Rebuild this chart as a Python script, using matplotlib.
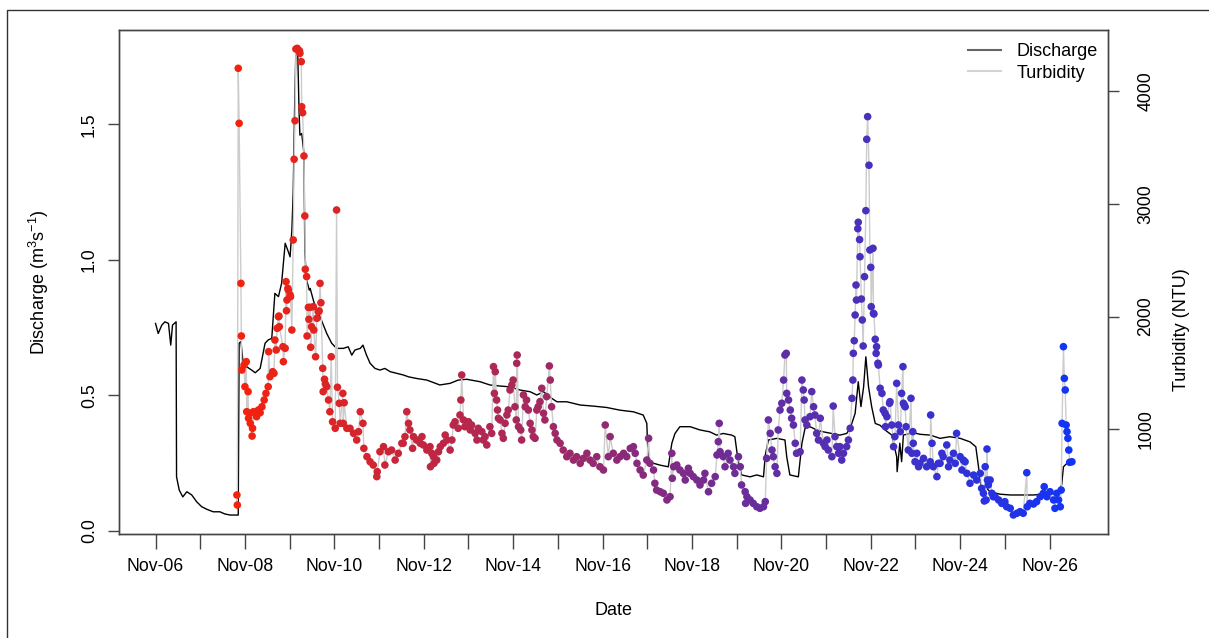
import numpy as np
import pandas as pd
import matplotlib
matplotlib.use('Agg')
import matplotlib.pyplot as plt
from matplotlib.colors import LinearSegmentedColormap
from matplotlib.lines import Line2D

plt.rcParams['font.family'] = ['Liberation Sans', 'DejaVu Sans']
plt.rcParams['mathtext.fontset'] = 'custom'
plt.rcParams['mathtext.rm'] = 'Liberation Sans'

start = pd.Timestamp('2016-11-06')

# stream discharge: days after Nov-06 00:00, m3/s
q_day = [0.00, 0.06, 0.14, 0.21, 0.29, 0.34, 0.38, 0.46, 0.47, 0.53,
         0.61, 0.70, 0.81, 0.92, 1.03, 1.15, 1.29, 1.44, 1.55, 1.67,
         1.82, 1.85, 1.87, 1.91, 1.96, 2.04, 2.15, 2.23, 2.34, 2.45,
         2.52, 2.60, 2.67, 2.75, 2.82, 2.90, 2.97, 3.01, 3.05, 3.08,
         3.11, 3.14, 3.18, 3.21, 3.23, 3.27, 3.32, 3.34, 3.38, 3.44,
         3.46, 3.53, 3.59, 3.68, 3.83, 3.94, 4.05, 4.20, 4.31, 4.39,
         4.46, 4.58, 4.64, 4.72, 4.80, 4.91, 5.02, 5.13, 5.25, 5.40,
         5.54, 5.66, 5.84, 6.07, 6.36, 6.59, 6.77, 6.96, 7.26, 7.48,
         7.71, 7.93, 8.16, 8.38, 8.53, 8.68, 8.86, 8.98, 9.20, 9.50,
         9.79, 10.09, 10.39, 10.69, 10.91, 10.99, 11.02, 11.14, 11.29, 11.47,
         11.55, 11.62, 11.73, 11.96, 12.18, 12.40, 12.55, 12.70, 12.89, 12.96,
         13.02, 13.11, 13.30, 13.45, 13.60, 13.64, 13.71, 13.90, 14.08, 14.12,
         14.19, 14.38, 14.46, 14.53, 14.64, 14.79, 14.94, 15.13, 15.31, 15.46,
         15.54, 15.65, 15.72, 15.78, 15.84, 15.89, 15.95, 16.02, 16.10, 16.21,
         16.32, 16.47, 16.58, 16.59, 16.65, 16.69, 16.73, 16.95, 17.10, 17.33,
         17.55, 17.77, 18.00, 18.22, 18.35, 18.41, 18.48, 18.56, 18.67, 18.89,
         19.12, 19.41, 19.64, 19.86, 20.16, 20.27, 20.31, 20.39]
q_val = [0.765, 0.728, 0.759, 0.771, 0.765, 0.685, 0.759, 0.771, 0.199, 0.150,
         0.125, 0.144, 0.132, 0.107, 0.089, 0.079, 0.070, 0.070, 0.062, 0.058,
         0.058, 0.058, 0.692, 0.698, 0.618, 0.605, 0.593, 0.583, 0.599, 0.692,
         0.704, 0.710, 0.876, 0.864, 0.913, 1.061, 1.030, 1.011, 1.110, 1.250,
         1.550, 1.774, 1.774, 1.550, 1.460, 1.466, 1.393, 1.024, 0.925, 0.888,
         0.894, 0.851, 0.820, 0.790, 0.728, 0.692, 0.673, 0.673, 0.679, 0.648,
         0.667, 0.673, 0.685, 0.648, 0.618, 0.599, 0.593, 0.599, 0.587, 0.581,
         0.575, 0.568, 0.562, 0.556, 0.538, 0.544, 0.556, 0.559, 0.550, 0.538,
         0.534, 0.531, 0.519, 0.513, 0.501, 0.513, 0.489, 0.476, 0.476, 0.464,
         0.460, 0.455, 0.445, 0.439, 0.427, 0.396, 0.261, 0.249, 0.242, 0.236,
         0.323, 0.359, 0.384, 0.384, 0.372, 0.365, 0.353, 0.359, 0.353, 0.347,
         0.273, 0.206, 0.199, 0.206, 0.199, 0.279, 0.335, 0.341, 0.335, 0.273,
         0.206, 0.199, 0.323, 0.378, 0.384, 0.372, 0.365, 0.359, 0.353, 0.359,
         0.378, 0.433, 0.550, 0.458, 0.531, 0.642, 0.531, 0.458, 0.396, 0.389,
         0.372, 0.353, 0.273, 0.218, 0.323, 0.255, 0.353, 0.362, 0.356, 0.353,
         0.341, 0.347, 0.341, 0.328, 0.310, 0.236, 0.144, 0.162, 0.144, 0.135,
         0.132, 0.132, 0.132, 0.135, 0.138, 0.169, 0.236, 0.249]

# turbidity samples: days after Nov-06 00:00, NTU
t_day = [1.82, 1.83, 1.85, 1.87, 1.91, 1.92, 1.93, 1.98, 2.00, 2.03,
         2.04, 2.07, 2.08, 2.11, 2.12, 2.16, 2.17, 2.19, 2.26, 2.30,
         2.34, 2.38, 2.43, 2.47, 2.52, 2.53, 2.56, 2.62, 2.65, 2.67,
         2.70, 2.72, 2.75, 2.76, 2.77, 2.85, 2.86, 2.90, 2.92, 2.93,
         2.94, 2.96, 2.97, 3.01, 3.02, 3.05, 3.08, 3.10, 3.12, 3.14,
         3.17, 3.22, 3.23, 3.26, 3.27, 3.29, 3.32, 3.34, 3.35, 3.38,
         3.39, 3.42, 3.43, 3.46, 3.47, 3.49, 3.53, 3.54, 3.58, 3.61,
         3.64, 3.66, 3.68, 3.70, 3.74, 3.75, 3.78, 3.80, 3.83, 3.87,
         3.90, 3.93, 3.96, 4.02, 4.05, 4.07, 4.11, 4.13, 4.19, 4.20,
         4.22, 4.28, 4.35, 4.43, 4.50, 4.54, 4.58, 4.64, 4.66, 4.73,
         4.80, 4.87, 4.95, 4.96, 5.02, 5.10, 5.13, 5.21, 5.28, 5.36,
         5.43, 5.51, 5.54, 5.58, 5.62, 5.66, 5.69, 5.75, 5.77, 5.84,
         5.92, 5.96, 5.99, 6.07, 6.14, 6.15, 6.18, 6.22, 6.23, 6.29,
         6.33, 6.37, 6.44, 6.48, 6.52, 6.59, 6.63, 6.66, 6.70, 6.77,
         6.81, 6.83, 6.85, 6.89, 6.92, 7.00, 7.04, 7.07, 7.15, 7.19,
         7.22, 7.30, 7.33, 7.37, 7.41, 7.48, 7.52, 7.56, 7.58, 7.60,
         7.63, 7.65, 7.67, 7.71, 7.75, 7.78, 7.82, 7.86, 7.89, 7.93,
         7.97, 8.00, 8.04, 8.07, 8.08, 8.09, 8.12, 8.17, 8.19, 8.23,
         8.27, 8.30, 8.34, 8.38, 8.42, 8.45, 8.49, 8.53, 8.56, 8.60,
         8.64, 8.68, 8.71, 8.75, 8.81, 8.83, 8.86, 8.90, 8.94, 8.98,
         9.05, 9.12, 9.20, 9.27, 9.35, 9.42, 9.50, 9.57, 9.65, 9.72,
         9.79, 9.87, 9.94, 10.02, 10.06, 10.13, 10.17, 10.24, 10.32, 10.39,
         10.47, 10.54, 10.62, 10.69, 10.73, 10.77, 10.84, 10.91, 10.99, 11.03,
         11.06, 11.14, 11.17, 11.21, 11.29, 11.36, 11.44, 11.51, 11.55, 11.56,
         11.59, 11.66, 11.73, 11.81, 11.85, 11.92, 11.96, 12.03, 12.11, 12.18,
         12.26, 12.29, 12.37, 12.44, 12.52, 12.56, 12.59, 12.61, 12.63, 12.70,
         12.74, 12.81, 12.85, 12.93, 12.96, 13.04, 13.08, 13.11, 13.19, 13.20,
         13.23, 13.30, 13.37, 13.45, 13.52, 13.60, 13.64, 13.67, 13.71, 13.75,
         13.79, 13.82, 13.86, 13.90, 13.93, 13.97, 14.01, 14.05, 14.08, 14.11,
         14.12, 14.16, 14.20, 14.23, 14.27, 14.31, 14.34, 14.42, 14.46, 14.49,
         14.51, 14.53, 14.57, 14.64, 14.68, 14.72, 14.75, 14.79, 14.83, 14.87,
         14.94, 14.98, 15.02, 15.05, 15.13, 15.16, 15.20, 15.24, 15.28, 15.31,
         15.35, 15.39, 15.46, 15.50, 15.54, 15.58, 15.60, 15.61, 15.63, 15.65,
         15.67, 15.68, 15.71, 15.72, 15.75, 15.76, 15.79, 15.81, 15.83, 15.86,
         15.89, 15.91, 15.93, 15.96, 15.98, 16.00, 16.01, 16.05, 16.06, 16.07,
         16.10, 16.12, 16.13, 16.16, 16.17, 16.21, 16.25, 16.28, 16.32, 16.33,
         16.36, 16.42, 16.43, 16.47, 16.51, 16.54, 16.58, 16.62, 16.66, 16.69,
         16.72, 16.73, 16.75, 16.77, 16.79, 16.84, 16.90, 16.92, 16.94, 16.95,
         16.99, 17.03, 17.07, 17.10, 17.18, 17.25, 17.33, 17.34, 17.37, 17.40,
         17.48, 17.51, 17.55, 17.59, 17.62, 17.70, 17.74, 17.77, 17.85, 17.89,
         17.92, 18.00, 18.04, 18.07, 18.11, 18.15, 18.22, 18.30, 18.37, 18.45,
         18.48, 18.52, 18.54, 18.56, 18.58, 18.60, 18.61, 18.63, 18.67, 18.71,
         18.74, 18.78, 18.86, 18.93, 19.00, 19.04, 19.12, 19.19, 19.27, 19.34,
         19.41, 19.49, 19.50, 19.56, 19.64, 19.71, 19.79, 19.86, 19.88, 19.94,
         20.01, 20.09, 20.12, 20.16, 20.20, 20.24, 20.26, 20.28, 20.31, 20.33,
         20.35, 20.37, 20.39, 20.41, 20.43, 20.45, 20.50]
t_val = [417, 328, 4203, 3715, 2295, 1828, 1526, 1570, 1378, 1600,
         1156, 1334, 1098, 1142, 1053, 940, 1009, 1156, 1112, 1171,
         1147, 1200, 1260, 1319, 1378, 1689, 1467, 1511, 1497, 1792,
         1704, 1896, 1999, 2005, 1910, 1733, 1600, 1719, 2310, 2052,
         2147, 2251, 2236, 2192, 2177, 1881, 2680, 3396, 3738, 4374,
         4380, 4359, 4336, 4262, 3862, 3809, 3425, 2893, 2420, 2355,
         1828, 2082, 1976, 2082, 1728, 1910, 2088, 1881, 1644, 1985,
         2043, 2050, 2295, 2123, 1541, 1334, 1444, 1402, 1378, 1260,
         1156, 1644, 1067, 1009, 2946, 1373, 1231, 1053, 1319, 1053,
         1236, 1009, 1009, 964, 905, 979, 1156, 1053, 831, 757,
         712, 683, 580, 624, 801, 846, 683, 801, 816, 727,
         787, 876, 876, 935, 1156, 1053, 994, 831, 935, 905,
         876, 935, 861, 816, 846, 668, 787, 757, 698, 727,
         801, 846, 876, 949, 905, 816, 905, 1038, 1067, 1009,
         1127, 1260, 1482, 1083, 1023, 1067, 994, 1038, 964, 905,
         1009, 979, 905, 935, 861, 1023, 964, 1556, 1319, 1511,
         1260, 1171, 1098, 1083, 964, 920, 1053, 1127, 1171, 1349,
         1393, 1437, 1200, 1083, 1586, 1659, 1023, 994, 905, 1305,
         1200, 1260, 1171, 1053, 994, 935, 920, 1171, 1200, 1245,
         1364, 1142, 1083, 1290, 1562, 1437, 1200, 1023, 964, 905,
         876, 816, 757, 787, 727, 757, 698, 742, 787, 727,
         698, 757, 668, 639, 1038, 757, 935, 787, 727, 757,
         787, 757, 831, 846, 787, 698, 639, 594, 727, 920,
         698, 639, 521, 461, 446, 432, 373, 402, 787, 565,
         668, 683, 639, 609, 550, 654, 609, 580, 550, 506,
         550, 609, 446, 521, 580, 772, 890, 1053, 801, 757,
         668, 787, 727, 668, 609, 757, 668, 506, 446, 343,
         402, 373, 343, 313, 299, 313, 358, 742, 1083, 964,
         816, 757, 668, 609, 994, 1171, 1231, 1437, 1659, 1674,
         1319, 1260, 1171, 1098, 1038, 876, 787, 801, 1437, 1349,
         1260, 1083, 1038, 1112, 1334, 1200, 1127, 964, 905, 1098,
         876, 846, 905, 816, 757, 1206, 935, 846, 787, 846,
         727, 787, 846, 905, 1009, 1275, 1437, 1674, 1786, 2014,
         2280, 2147, 2780, 2837, 2683, 2531, 2156, 1970, 1739, 2354,
         2940, 3573, 3774, 3343, 2591, 2437, 2088, 2606, 2029, 2023,
         1799, 1674, 1733, 1586, 1570, 1364, 1319, 1171, 1142, 1023,
         1112, 1231, 1245, 1038, 846, 935, 1408, 1038, 979, 1319,
         1556, 1231, 1216, 1200, 1023, 816, 1275, 787, 979, 876,
         712, 787, 668, 698, 742, 668, 712, 1127, 876, 668,
         580, 698, 698, 787, 757, 861, 668, 727, 787, 698,
         964, 757, 639, 727, 712, 609, 521, 594, 550, 609,
         476, 432, 364, 668, 373, 825, 550, 506, 550, 432,
         402, 402, 373, 343, 358, 313, 299, 240, 255, 269,
         255, 615, 313, 343, 337, 358, 402, 432, 491, 402,
         446, 373, 299, 432, 373, 313, 461, 1053, 1733, 1452,
         1349, 1038, 979, 920, 816, 707, 712]

q_time = start + pd.to_timedelta(q_day, unit='D')
t_time = start + pd.to_timedelta(t_day, unit='D')
tick_dates = pd.date_range('2016-11-06', '2016-11-26', freq='D')
tick_labels = [d.strftime('%b-%d') if i % 2 == 0 else '' for i, d in enumerate(tick_dates)]

# samples shade from red (first) to blue (last)
ramp = LinearSegmentedColormap.from_list('ramp', ['#f5220c', '#1234f6'])
frac = (np.array(t_day) - t_day[0]) / (t_day[-1] - t_day[0])

axis_col = '#444444'

fig = plt.figure(figsize=(12.09, 6.38), dpi=100)
ax = fig.add_axes([0.0987, 0.163, 0.8175, 0.790])
ax2 = ax.twinx()

ax.plot(q_time, q_val, color='black', lw=1.0)
ax2.plot(t_time, t_val, color='#cccccc', lw=1.0, zorder=1)
ax2.scatter(t_time, t_val, c=ramp(frac), s=30, linewidths=0, zorder=2)

ax.set_xlim(start - pd.Timedelta(days=0.81), start + pd.Timedelta(days=21.30))
ax.set_ylim(-0.012, 1.848)
ax2.set_ylim(71, 4543)

ax.set_xticks(tick_dates)
ax.set_xticklabels(tick_labels)
ax.set_yticks([0.0, 0.5, 1.0, 1.5])
ax.set_yticklabels(['0.0', '0.5', '1.0', '1.5'])
ax2.set_yticks([1000, 2000, 3000, 4000])
ax2.set_yticklabels(['1000', '2000', '3000', '4000'])

ax.tick_params(axis='x', length=11, width=1, color=axis_col, pad=6, labelsize=12.7)
ax.tick_params(axis='y', length=8, width=1, color=axis_col, pad=7.5, labelsize=12.7)
ax2.tick_params(axis='y', length=7.7, width=1, color=axis_col, pad=13.5, labelsize=12.7)
for lbl in ax.get_yticklabels() + ax2.get_yticklabels():
    lbl.set_rotation(90)
    lbl.set_va('center')

for a in (ax, ax2):
    for sp in a.spines.values():
        sp.set_color(axis_col)
        sp.set_linewidth(1.0)

ax.set_xlabel('Date', fontsize=13, va='center')
ax.xaxis.set_label_coords(0.5, -0.151)
ax.set_ylabel('Discharge (m$^\\mathregular{3}$s$^\\mathregular{-1}$)', fontsize=13)
ax.yaxis.set_label_coords(-0.069, 0.5)
ax2.set_ylabel('Turbidity (NTU)', fontsize=13, va='center')
ax2.yaxis.set_label_coords(1.0742, 0.405)

handles = [Line2D([], [], color='#666666', lw=1.5),
           Line2D([], [], color='#d3d3d3', lw=1.5)]
ax2.legend(handles, ['Discharge', 'Turbidity'], loc='upper left',
           bbox_to_anchor=(0.8584, 0.974), frameon=False, fontsize=13,
           handlelength=1.83, handletextpad=0.87, labelspacing=0.25,
           borderpad=0, borderaxespad=0)

# page frame
fig.add_artist(Line2D([0.0058, 0.0058, 1.0], [0.0, 0.9843, 0.9843],
                      transform=fig.transFigure, color='#333333', lw=1.0))

fig.savefig('out.png', dpi=100)
